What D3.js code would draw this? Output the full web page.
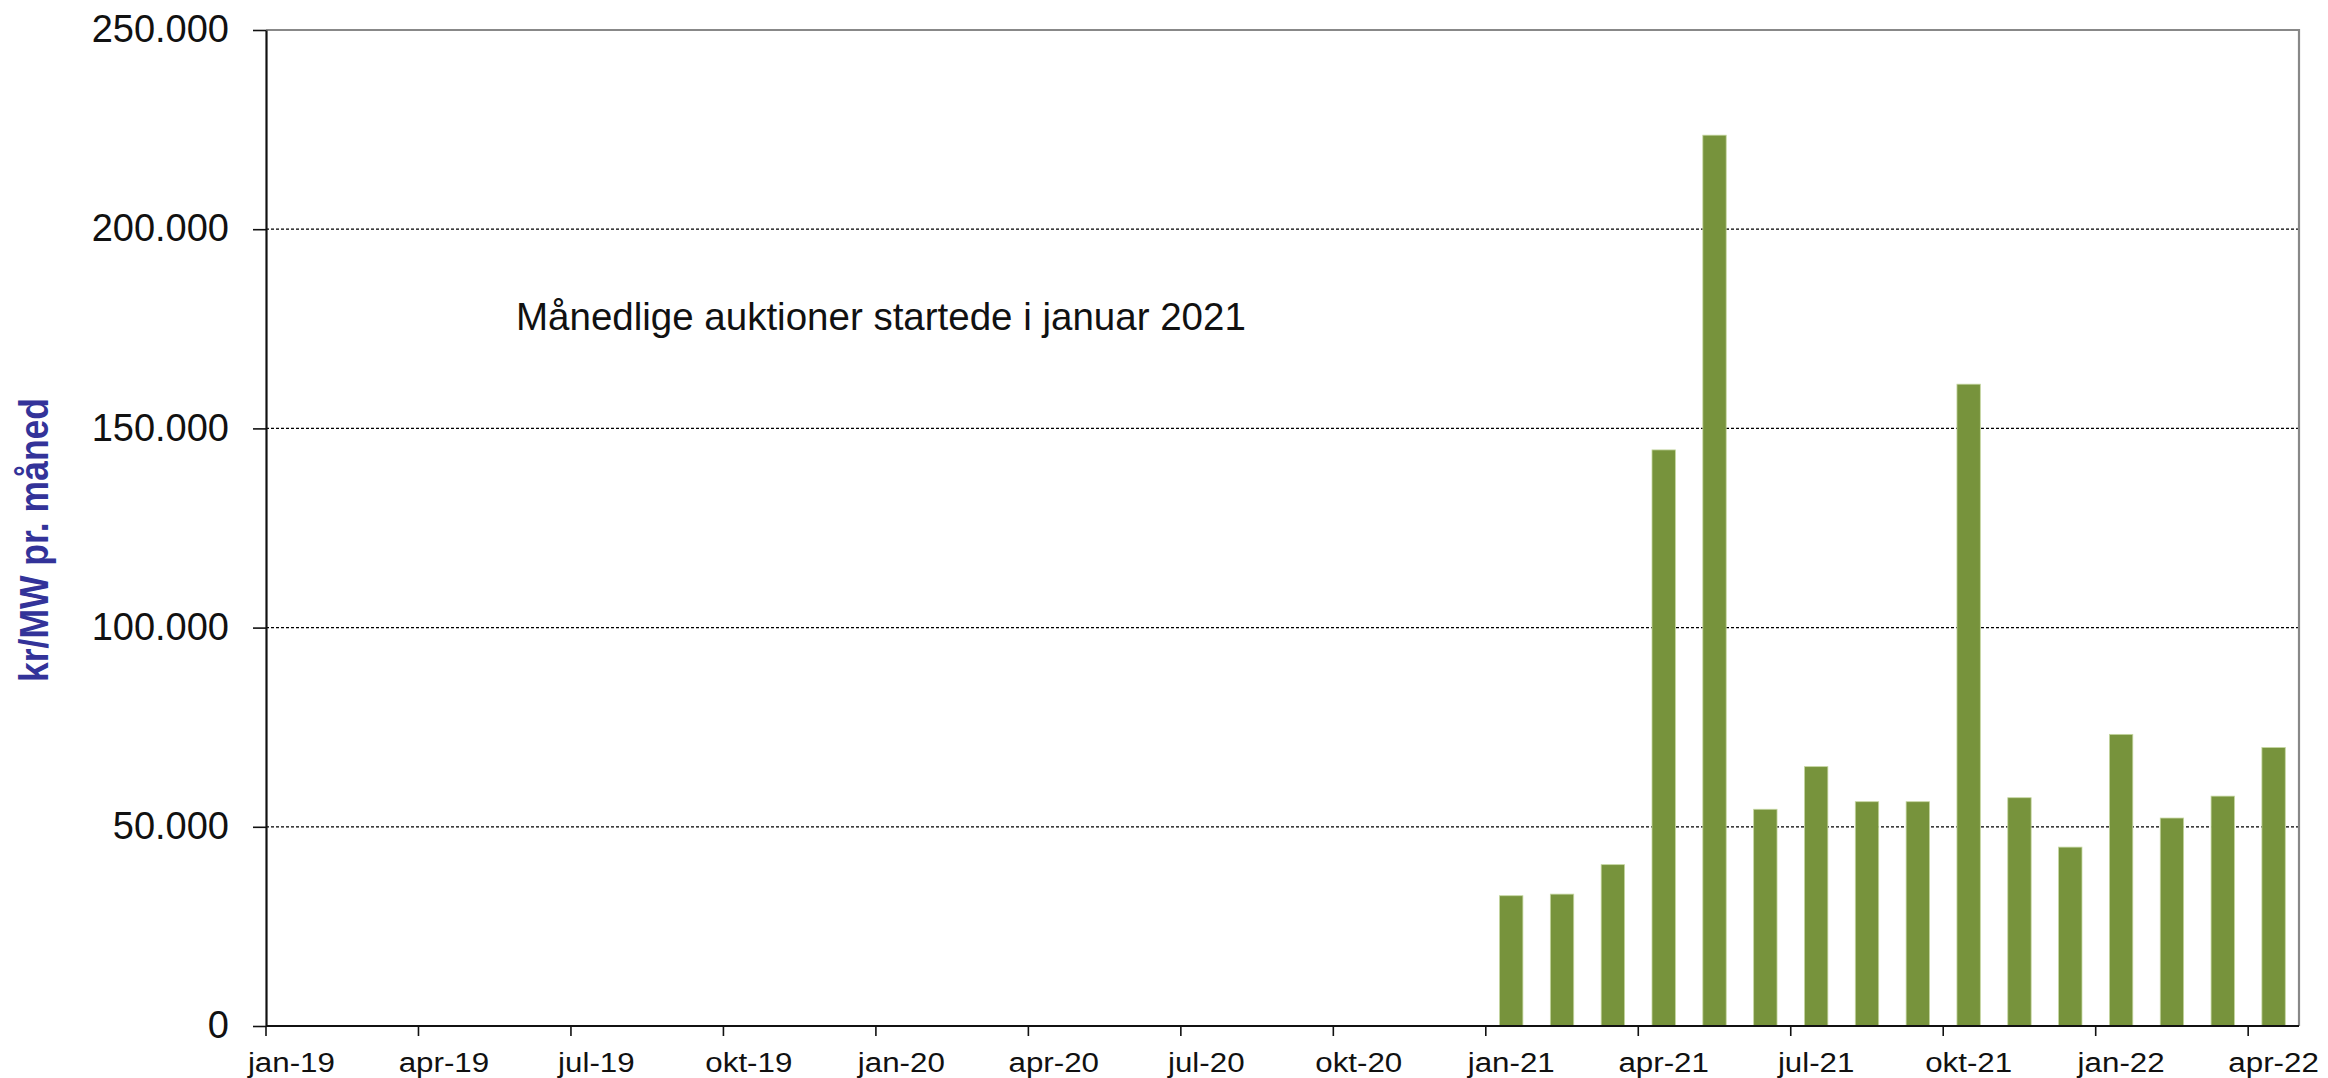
<!DOCTYPE html>
<html>
<head>
<meta charset="utf-8">
<script src="https://cdn.jsdelivr.net/npm/d3@7"></script>
<style>
  html, body { margin: 0; padding: 0; background: #fff; }
  svg { display: block; font-family: "Liberation Sans", Arial, sans-serif; }
</style>
</head>
<body>
<svg id="chart" width="2328" height="1078"></svg>
<script>
// ---- data ----
const monthNames = ["jan","feb","mar","apr","maj","jun","jul","aug","sep","okt","nov","dec"];
const years = ["19","20","21","22"];
const months = [];
years.forEach(y => monthNames.forEach(m => months.push(m + "-" + y)));
months.splice(months.indexOf("apr-22") + 1); // jan-19 .. apr-22

const auctionMonths = ["jan-21","feb-21","mar-21","apr-21","maj-21","jun-21","jul-21","aug-21",
                       "sep-21","okt-21","nov-21","dec-21","jan-22","feb-22","mar-22","apr-22"];
const auctionValues = [32700, 33100, 40500, 144600, 223600, 54400, 65100, 56300,
                       56300, 161100, 57300, 44900, 73200, 52200, 57700, 69900];

const xTickLabels = ["jan-19","apr-19","jul-19","okt-19","jan-20","apr-20","jul-20","okt-20",
                     "jan-21","apr-21","jul-21","okt-21","jan-22","apr-22"];
const yTicks = [0, 50000, 100000, 150000, 200000, 250000];
const yTitle = "kr/MW pr. måned";
const annotation = "Månedlige auktioner startede i januar 2021";

// ---- layout ----
const pL = 266, pR = 2299, pT = 30, pB = 1026;
const svg = d3.select("#chart");

const x = d3.scaleBand().domain(months).range([pL, pR]).padding(0);
const y = d3.scaleLinear().domain([0, 250000]).range([pB, pT]);
const bw = x.bandwidth();
const barFrac = 0.46;

const da = d3.formatLocale({decimal: ",", thousands: ".", grouping: [3], currency: ["", " kr"]});
const fmt = da.format(",");

// gridlines
svg.append("g").selectAll("line")
  .data(yTicks.filter(v => v > 0 && v < 250000))
  .join("line")
  .attr("x1", pL).attr("x2", pR)
  .attr("y1", d => y(d)).attr("y2", d => y(d))
  .attr("stroke", "#000").attr("stroke-width", 1.3)
  .attr("stroke-dasharray", "3,2");

// top and right border
svg.append("path")
  .attr("d", `M${pL},${pT}H${pR}V${pB}`)
  .attr("fill", "none").attr("stroke", "#888").attr("stroke-width", 2.2);

// bars
const data = auctionMonths.map((m, i) => ({m, v: auctionValues[i]}));
svg.append("g").selectAll("rect")
  .data(data)
  .join("rect")
  .attr("x", d => x(d.m) + bw * (1 - barFrac) / 2)
  .attr("width", bw * barFrac)
  .attr("y", d => y(d.v))
  .attr("height", d => y(0) - y(d.v))
  .attr("fill", "#77933C")
  .attr("stroke", "#c5d6a0").attr("stroke-width", 0.8);

// y axis
const yAxis = svg.append("g")
  .attr("transform", `translate(${pL},0)`)
  .call(d3.axisLeft(y).tickValues(yTicks).tickFormat(fmt).tickSize(13).tickPadding(24).tickSizeOuter(0));
yAxis.select(".domain").attr("stroke", "#111").attr("stroke-width", 2.2);
yAxis.selectAll(".tick line").attr("stroke", "#111").attr("stroke-width", 1.6);
yAxis.selectAll(".tick text")
  .attr("font-family", "'Liberation Sans', Arial, sans-serif")
  .attr("font-size", 38).attr("fill", "#111").attr("dy", "0.31em");

// x axis
const xAxis = svg.append("g")
  .attr("transform", `translate(0,${pB})`)
  .call(d3.axisBottom(x).tickValues(xTickLabels).tickSize(10).tickSizeOuter(0));
xAxis.select(".domain").attr("stroke", "#111").attr("stroke-width", 2.2)
  .attr("d", `M${pL},0H${pR}`);
xAxis.selectAll(".tick line").attr("stroke", "#111").attr("stroke-width", 1.6)
  .attr("x1", -bw / 2).attr("x2", -bw / 2);
xAxis.selectAll(".tick text")
  .attr("font-family", "'Liberation Sans', Arial, sans-serif")
  .attr("font-size", 27).attr("fill", "#111")
  .attr("y", 0).attr("dy", 0)
  .attr("transform", "translate(0,45.7) scale(1.16,1)");

// y title
svg.append("text")
  .attr("transform", "translate(48,540) rotate(-90) scale(1,1.16)")
  .attr("text-anchor", "middle")
  .attr("font-size", 35.5).attr("font-weight", "bold")
  .attr("fill", "#333399")
  .text(yTitle);

// annotation
svg.append("text")
  .attr("x", 516).attr("y", 330)
  .attr("font-size", 38.5).attr("fill", "#111")
  .text(annotation);
</script>
</body>
</html>
